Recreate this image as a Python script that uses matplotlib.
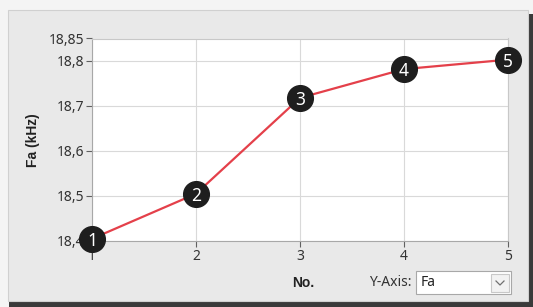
import matplotlib
matplotlib.use('Agg')
import matplotlib.pyplot as plt
from matplotlib.patches import Rectangle
from matplotlib.lines import Line2D
from matplotlib.ticker import FixedLocator, FixedFormatter

plt.rcParams['font.family'] = ['Noto Sans', 'DejaVu Sans']

# data
point_no = [1, 2, 3, 4, 5]
fa_khz = [18.405, 18.505, 18.718, 18.782, 18.803]
y_ticks = [18.4, 18.5, 18.6, 18.7, 18.8, 18.85]
y_tick_labels = ['18,4', '18,5', '18,6', '18,7', '18,8', '18,85']
x_ticks = [1, 2, 3, 4, 5]

W, H = 533, 307
fig = plt.figure(figsize=(W / 100, H / 100), dpi=100)
fig.patch.set_facecolor('#f4f4f4')


def px(x0, y0, w, h):
    # pixel box (top-left origin) -> figure fraction
    return x0 / W, 1 - (y0 + h) / H, w / W, h / H


# window panel with dark shadow at right and bottom
fig.patches.append(Rectangle(px(9, 14, 524, 293)[:2], 524 / W, 293 / H,
                             transform=fig.transFigure, facecolor='#3a3a3a',
                             edgecolor='none', zorder=0))
fig.patches.append(Rectangle(px(8, 10, 520, 291)[:2], 520 / W, 291 / H,
                             transform=fig.transFigure, facecolor='#e9e9e9',
                             edgecolor='#d0d0d0', linewidth=0.8, zorder=1))

ax = fig.add_axes(px(92, 38.5, 416, 202.5))
ax.set_zorder(2)
ax.set_facecolor('white')

ax.plot(point_no, fa_khz, color='#e4404a', linewidth=1.6, zorder=3)
ax.plot(point_no, fa_khz, linestyle='none', marker='o', markersize=18.5,
        markerfacecolor='#1e1e1e', markeredgecolor='#1e1e1e', zorder=4,
        clip_on=False)
for n, v in zip(point_no, fa_khz):
    ax.text(n, v, str(n), color='white', fontsize=12.5, ha='center',
            va='center_baseline', zorder=5, clip_on=False)

ax.set_xlim(1, 5)
ax.set_ylim(18.4, 18.85)
ax.xaxis.set_major_locator(FixedLocator(x_ticks))
ax.yaxis.set_major_locator(FixedLocator(y_ticks))
ax.yaxis.set_major_formatter(FixedFormatter(y_tick_labels))

ax.grid(True, color='#d9d9d9', linewidth=0.8)
ax.set_axisbelow(True)
for side in ['left', 'bottom']:
    ax.spines[side].set_color('#a8a8a8')
for side in ['top', 'right']:
    ax.spines[side].set_color('#c8c8c8')

ax.tick_params(axis='both', direction='out', length=4, width=0.8,
               color='#606060', labelsize=10, labelcolor='#333333', pad=1.5)

bold = dict(family=['Liberation Sans', 'DejaVu Sans'], fontweight='bold',
            fontsize=10, color='#222222')
fig.text(303 / W, 1 - 283 / H, 'No.', ha='center', va='center', **bold)
fig.text(33 / W, 1 - 140 / H, 'Fa (kHz)', rotation=90, ha='center',
         va='center', **bold)

# Y-Axis selector
fig.text(412 / W, 1 - 283 / H, 'Y-Axis:', fontsize=10, color='#333333',
         ha='right', va='center')
box = px(416, 271, 95, 23)
fig.patches.append(Rectangle(box[:2], box[2], box[3], transform=fig.transFigure,
                             facecolor='white', edgecolor='#a8a8a8',
                             linewidth=0.8, zorder=3))
btn = px(491, 274, 18, 18)
fig.patches.append(Rectangle(btn[:2], btn[2], btn[3], transform=fig.transFigure,
                             facecolor='#f2f2f2', edgecolor='#c8c8c8',
                             linewidth=0.8, zorder=4))
fig.lines.append(Line2D([496 / W, 500 / W, 504 / W],
                        [1 - 281 / H, 1 - 285 / H, 1 - 281 / H],
                        transform=fig.transFigure, color='#707070',
                        linewidth=0.9, zorder=5))
fig.text(421 / W, 1 - 283 / H, 'Fa', fontsize=10, color='#222222',
         ha='left', va='center', zorder=5)

fig.savefig('out.png', dpi=100, facecolor=fig.get_facecolor())
